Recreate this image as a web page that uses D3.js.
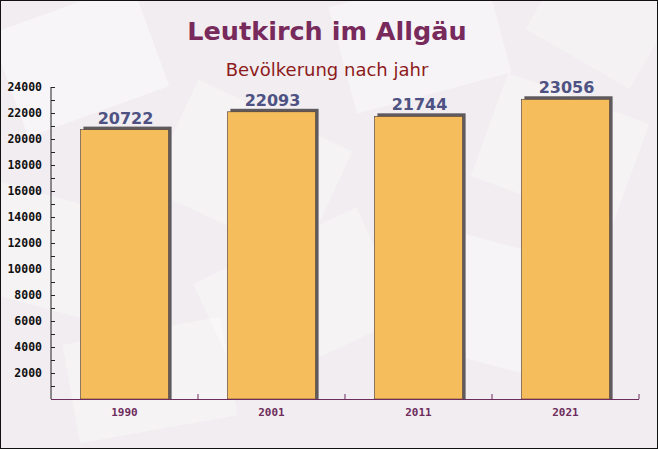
<!DOCTYPE html>
<html><head><meta charset="utf-8">
<script src="https://cdn.jsdelivr.net/npm/d3@7"></script>
<style>html,body{margin:0;padding:0;background:#fff;}svg{display:block;}</style>
</head><body>
<script>
const categories = ["1990", "2001", "2011", "2021"];
const populationValues = [20722, 22093, 21744, 23056];
const yTickValues = [2000, 4000, 6000, 8000, 10000, 12000, 14000, 16000, 18000, 20000, 22000, 24000];
const titleText = "Leutkirch im Allgäu";
const subtitleText = "Bevölkerung nach jahr";

const W = 658, H = 449;
const svg = d3.select("body").append("svg").attr("width", W).attr("height", H);

// background
svg.append("rect").attr("width", W).attr("height", H).attr("fill", "#f1edf0");
const deco = svg.append("g").attr("fill", "#ffffff");
[[80,60,150,110,-20,0.45],[250,170,170,120,25,0.35],[420,40,160,110,-15,0.4],[560,150,150,110,20,0.35],
 [40,250,140,110,15,0.35],[300,300,180,120,-25,0.35],[480,300,160,120,15,0.4],[150,380,160,100,-10,0.35],[600,20,120,90,30,0.3]]
 .forEach(([x,y,w,h,r,o]) => deco.append("rect").attr("x",-w/2).attr("y",-h/2).attr("width",w).attr("height",h)
   .attr("opacity",o).attr("transform",`translate(${x},${y}) rotate(${r})`));

const x = d3.scaleBand().domain(categories).range([51, 639]).paddingInner(0.4).paddingOuter(0.2);
const y = d3.scaleLinear().domain([0, 24000]).range([399, 87]);

// shadows
svg.append("g").selectAll("rect").data(categories).join("rect")
  .attr("x", d => x(d) + 3).attr("y", (d,i) => y(populationValues[i]) - 3)
  .attr("width", x.bandwidth()).attr("height", (d,i) => 399 - y(populationValues[i]) + 3)
  .attr("fill", "#5e5a5e");
// bars
svg.append("g").selectAll("rect").data(categories).join("rect")
  .attr("x", d => x(d)).attr("y", (d,i) => y(populationValues[i]))
  .attr("width", x.bandwidth()).attr("height", (d,i) => 399 - y(populationValues[i]))
  .attr("fill", "#f6bd5c").attr("stroke", "#4a3a3a").attr("stroke-width", 0.6);

// value labels
svg.append("g").selectAll("text").data(categories).join("text")
  .attr("x", d => x(d) + x.bandwidth()/2 + 1).attr("y", (d,i) => y(populationValues[i]) - 6)
  .attr("text-anchor", "middle").attr("font-family", "DejaVu Sans").attr("font-weight", "bold")
  .attr("font-size", "16px").attr("fill", "#4d5283").text((d,i) => populationValues[i]);

// y axis
const axisColor = "#222";
const yAxis = svg.append("g");
yAxis.append("line").attr("x1", 51).attr("x2", 51).attr("y1", 87).attr("y2", 399).attr("stroke", axisColor);
const minor = d3.range(1000, 24001, 1000);
yAxis.selectAll("line.t").data(minor).join("line").attr("class","t")
  .attr("x1", 51).attr("x2", 55).attr("y1", d => y(d) + 0.5).attr("y2", d => y(d) + 0.5)
  .attr("stroke", axisColor);
yAxis.selectAll("text").data(yTickValues).join("text")
  .attr("x", 42).attr("y", d => y(d) + 4).attr("text-anchor", "end")
  .attr("font-family", "DejaVu Sans Mono").attr("font-weight", "bold").attr("font-size", "11.5px")
  .attr("fill", "#111").text(d => d);

// x axis
const xc = "#6e2c5c";
const xAxis = svg.append("g");
xAxis.append("line").attr("x1", 51).attr("x2", 639).attr("y1", 399.5).attr("y2", 399.5).attr("stroke", xc);
const bounds = categories.map(d => x(d) - x.step()*x.paddingInner()/2).concat([639]);
xAxis.selectAll("line.t").data(bounds.slice(1)).join("line").attr("class","t")
  .attr("x1", d => d).attr("x2", d => d).attr("y1", 394).attr("y2", 399).attr("stroke", xc);
xAxis.selectAll("text").data(categories).join("text")
  .attr("x", d => x(d) + x.bandwidth()/2).attr("y", 416).attr("text-anchor", "middle")
  .attr("font-family", "DejaVu Sans Mono").attr("font-weight", "bold").attr("font-size", "11px")
  .attr("fill", xc).text(d => d);

// titles
svg.append("text").attr("x", 327).attr("y", 39.5).attr("text-anchor", "middle")
  .attr("font-family", "DejaVu Sans").attr("font-weight", "bold")
  .attr("font-size", "25.5px").attr("fill", "#772a5b").text(titleText);
svg.append("text").attr("x", 327).attr("y", 75.5).attr("text-anchor", "middle")
  .attr("font-family", "DejaVu Sans")
  .attr("font-size", "18px").attr("fill", "#8e1b1b").text(subtitleText);

// frame
svg.append("rect").attr("x", 0.5).attr("y", 0.5).attr("width", W-1).attr("height", H-1)
  .attr("fill", "none").attr("stroke", "#111");
</script>
</body></html>
